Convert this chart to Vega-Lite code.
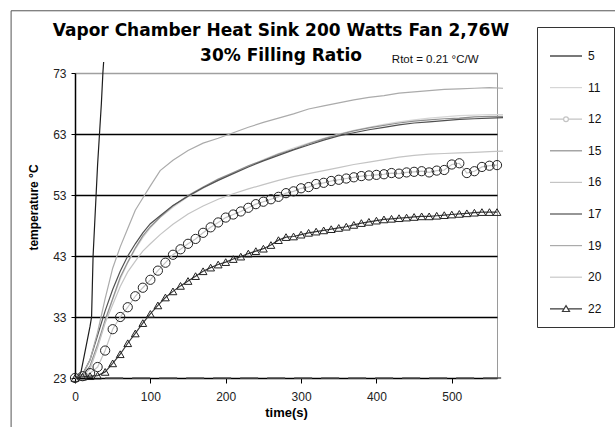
{
"$schema":"https://vega.github.io/schema/vega-lite/v6.json",
"width":422,"height":305,
"autosize":"none",
"padding":{"left":75,"top":73,"right":118,"bottom":49},
"background":"white",
"config":{"font":"Liberation Sans","view":{"stroke":"#9a9a9a","strokeWidth":1}},
"title":{"text":["Vapor Chamber Heat  Sink 200 Watts Fan 2,76W","30% Filling Ratio"],"font":"DejaVu Sans","fontSize":17,"fontWeight":"bold","color":"#000","lineHeight":25,"anchor":"middle","frame":"group","dx":-5,"baseline":"alphabetic","offset":-68},
"data":{"values":[
{"s":"5","t":0,"v":23},{"s":"5","t":5,"v":23.2},{"s":"5","t":8,"v":24},{"s":"5","t":12,"v":26.5},{"s":"5","t":16,"v":29},{"s":"5","t":20,"v":31.5},{"s":"5","t":22,"v":33},{"s":"5","t":23,"v":38},{"s":"5","t":24,"v":43},{"s":"5","t":26,"v":48},{"s":"5","t":28,"v":53},{"s":"5","t":30,"v":58},{"s":"5","t":32.5,"v":63},{"s":"5","t":35,"v":68},{"s":"5","t":37,"v":73},{"s":"5","t":38,"v":74.8},
{"s":"11","t":0,"v":23},{"s":"11","t":10,"v":23.3},{"s":"11","t":20,"v":24.6},{"s":"11","t":30,"v":28.2},{"s":"11","t":40,"v":32.2},{"s":"11","t":50,"v":35.8},{"s":"11","t":60,"v":39.2},{"s":"11","t":70,"v":41.9},{"s":"11","t":80,"v":44.1},{"s":"11","t":90,"v":46},{"s":"11","t":100,"v":47.6},{"s":"11","t":113,"v":49.3},{"s":"11","t":130,"v":51},{"s":"11","t":150,"v":52.7},{"s":"11","t":170,"v":54.1},{"s":"11","t":190,"v":55.4},{"s":"11","t":210,"v":56.6},{"s":"11","t":230,"v":57.7},{"s":"11","t":250,"v":58.8},{"s":"11","t":270,"v":59.8},{"s":"11","t":290,"v":60.7},{"s":"11","t":310,"v":61.5},{"s":"11","t":330,"v":62.3},{"s":"11","t":350,"v":63},{"s":"11","t":370,"v":63.6},{"s":"11","t":390,"v":64.1},{"s":"11","t":410,"v":64.6},{"s":"11","t":430,"v":65},{"s":"11","t":450,"v":65.3},{"s":"11","t":470,"v":65.6},{"s":"11","t":490,"v":65.8},{"s":"11","t":510,"v":66},{"s":"11","t":530,"v":66.1},{"s":"11","t":550,"v":66.2},{"s":"11","t":568,"v":66.2},
{"s":"15","t":0,"v":23},{"s":"15","t":10,"v":23.4},{"s":"15","t":20,"v":25},{"s":"15","t":30,"v":28.5},{"s":"15","t":40,"v":32.5},{"s":"15","t":50,"v":36},{"s":"15","t":60,"v":39.5},{"s":"15","t":70,"v":42},{"s":"15","t":80,"v":44.3},{"s":"15","t":90,"v":46.3},{"s":"15","t":100,"v":47.8},{"s":"15","t":113,"v":49.4},{"s":"15","t":130,"v":51.2},{"s":"15","t":150,"v":52.9},{"s":"15","t":170,"v":54.3},{"s":"15","t":190,"v":55.6},{"s":"15","t":210,"v":56.7},{"s":"15","t":230,"v":57.8},{"s":"15","t":250,"v":58.7},{"s":"15","t":270,"v":59.7},{"s":"15","t":290,"v":60.5},{"s":"15","t":310,"v":61.4},{"s":"15","t":330,"v":62.2},{"s":"15","t":350,"v":62.9},{"s":"15","t":370,"v":63.5},{"s":"15","t":390,"v":64},{"s":"15","t":410,"v":64.4},{"s":"15","t":430,"v":64.8},{"s":"15","t":450,"v":65.1},{"s":"15","t":470,"v":65.3},{"s":"15","t":490,"v":65.5},{"s":"15","t":510,"v":65.6},{"s":"15","t":530,"v":65.8},{"s":"15","t":550,"v":65.9},{"s":"15","t":568,"v":65.9},
{"s":"16","t":0,"v":23},{"s":"16","t":10,"v":23.3},{"s":"16","t":20,"v":24.5},{"s":"16","t":30,"v":28},{"s":"16","t":40,"v":32},{"s":"16","t":50,"v":35},{"s":"16","t":60,"v":38},{"s":"16","t":70,"v":40.4},{"s":"16","t":82,"v":42.5},{"s":"16","t":90,"v":43.8},{"s":"16","t":100,"v":45},{"s":"16","t":113,"v":46.5},{"s":"16","t":130,"v":48.2},{"s":"16","t":150,"v":49.9},{"s":"16","t":170,"v":51.2},{"s":"16","t":190,"v":52.3},{"s":"16","t":210,"v":53.2},{"s":"16","t":230,"v":54},{"s":"16","t":250,"v":54.7},{"s":"16","t":270,"v":55.4},{"s":"16","t":290,"v":56},{"s":"16","t":310,"v":56.5},{"s":"16","t":330,"v":57},{"s":"16","t":350,"v":57.5},{"s":"16","t":370,"v":58},{"s":"16","t":390,"v":58.4},{"s":"16","t":410,"v":58.8},{"s":"16","t":430,"v":59.2},{"s":"16","t":450,"v":59.5},{"s":"16","t":470,"v":59.7},{"s":"16","t":490,"v":59.8},{"s":"16","t":510,"v":59.9},{"s":"16","t":530,"v":60},{"s":"16","t":550,"v":60.1},{"s":"16","t":568,"v":60.2},
{"s":"17","t":0,"v":23},{"s":"17","t":10,"v":23.6},{"s":"17","t":20,"v":26},{"s":"17","t":30,"v":30},{"s":"17","t":40,"v":34},{"s":"17","t":50,"v":37.5},{"s":"17","t":60,"v":40.5},{"s":"17","t":70,"v":43},{"s":"17","t":80,"v":45},{"s":"17","t":90,"v":46.8},{"s":"17","t":100,"v":48.3},{"s":"17","t":113,"v":49.6},{"s":"17","t":130,"v":51.3},{"s":"17","t":150,"v":52.8},{"s":"17","t":170,"v":54.2},{"s":"17","t":190,"v":55.4},{"s":"17","t":210,"v":56.5},{"s":"17","t":230,"v":57.6},{"s":"17","t":250,"v":58.6},{"s":"17","t":270,"v":59.5},{"s":"17","t":290,"v":60.4},{"s":"17","t":310,"v":61.2},{"s":"17","t":330,"v":62},{"s":"17","t":350,"v":62.7},{"s":"17","t":370,"v":63.2},{"s":"17","t":390,"v":63.7},{"s":"17","t":410,"v":64.1},{"s":"17","t":430,"v":64.5},{"s":"17","t":450,"v":64.8},{"s":"17","t":470,"v":65},{"s":"17","t":490,"v":65.2},{"s":"17","t":510,"v":65.4},{"s":"17","t":530,"v":65.5},{"s":"17","t":550,"v":65.6},{"s":"17","t":568,"v":65.7},
{"s":"19","t":0,"v":23},{"s":"19","t":10,"v":23.5},{"s":"19","t":20,"v":26},{"s":"19","t":30,"v":30.5},{"s":"19","t":40,"v":36},{"s":"19","t":50,"v":41},{"s":"19","t":60,"v":44.5},{"s":"19","t":70,"v":47.5},{"s":"19","t":80,"v":50.5},{"s":"19","t":90,"v":52.5},{"s":"19","t":100,"v":54.5},{"s":"19","t":113,"v":57},{"s":"19","t":130,"v":58.7},{"s":"19","t":150,"v":60.3},{"s":"19","t":170,"v":61.5},{"s":"19","t":190,"v":62.3},{"s":"19","t":210,"v":63.2},{"s":"19","t":230,"v":64.1},{"s":"19","t":250,"v":64.9},{"s":"19","t":270,"v":65.6},{"s":"19","t":290,"v":66.3},{"s":"19","t":310,"v":67.1},{"s":"19","t":330,"v":67.6},{"s":"19","t":350,"v":68.1},{"s":"19","t":370,"v":68.6},{"s":"19","t":390,"v":69},{"s":"19","t":410,"v":69.3},{"s":"19","t":430,"v":69.7},{"s":"19","t":450,"v":69.9},{"s":"19","t":470,"v":70.1},{"s":"19","t":490,"v":70.3},{"s":"19","t":510,"v":70.4},{"s":"19","t":530,"v":70.5},{"s":"19","t":550,"v":70.6},{"s":"19","t":568,"v":70.5},
{"s":"20","t":40,"v":23},{"s":"20","t":568,"v":23},
{"s":"12","t":0,"v":23},{"s":"12","t":10,"v":23.3},{"s":"12","t":20,"v":23.8},{"s":"12","t":30,"v":24.8},{"s":"12","t":40,"v":27.5},{"s":"12","t":50,"v":31},{"s":"12","t":60,"v":33},{"s":"12","t":70,"v":34.6},{"s":"12","t":80,"v":36.4},{"s":"12","t":90,"v":37.8},{"s":"12","t":100,"v":39.1},{"s":"12","t":110,"v":40.6},{"s":"12","t":120,"v":41.9},{"s":"12","t":130,"v":43.2},{"s":"12","t":140,"v":44.1},{"s":"12","t":150,"v":45},{"s":"12","t":160,"v":45.8},{"s":"12","t":170,"v":46.8},{"s":"12","t":180,"v":47.7},{"s":"12","t":190,"v":48.5},{"s":"12","t":200,"v":49.3},{"s":"12","t":210,"v":49.8},{"s":"12","t":220,"v":50.3},{"s":"12","t":230,"v":50.9},{"s":"12","t":240,"v":51.5},{"s":"12","t":250,"v":51.9},{"s":"12","t":260,"v":52.3},{"s":"12","t":270,"v":52.7},{"s":"12","t":280,"v":53.3},{"s":"12","t":290,"v":53.6},{"s":"12","t":300,"v":54.1},{"s":"12","t":310,"v":54.3},{"s":"12","t":320,"v":54.8},{"s":"12","t":330,"v":55},{"s":"12","t":340,"v":55.3},{"s":"12","t":350,"v":55.5},{"s":"12","t":360,"v":55.7},{"s":"12","t":370,"v":55.9},{"s":"12","t":380,"v":56.1},{"s":"12","t":390,"v":56.2},{"s":"12","t":400,"v":56.3},{"s":"12","t":410,"v":56.4},{"s":"12","t":420,"v":56.6},{"s":"12","t":430,"v":56.5},{"s":"12","t":440,"v":56.7},{"s":"12","t":450,"v":56.8},{"s":"12","t":460,"v":56.9},{"s":"12","t":470,"v":56.7},{"s":"12","t":480,"v":57},{"s":"12","t":490,"v":57.1},{"s":"12","t":500,"v":58},{"s":"12","t":510,"v":58.2},{"s":"12","t":520,"v":56.6},{"s":"12","t":530,"v":56.9},{"s":"12","t":540,"v":57.6},{"s":"12","t":550,"v":57.8},{"s":"12","t":560,"v":57.9},
{"s":"22","t":0,"v":23},{"s":"22","t":10,"v":23.2},{"s":"22","t":20,"v":23.3},{"s":"22","t":30,"v":23.4},{"s":"22","t":40,"v":24},{"s":"22","t":50,"v":25.4},{"s":"22","t":60,"v":26.9},{"s":"22","t":70,"v":28.7},{"s":"22","t":80,"v":30.3},{"s":"22","t":90,"v":32},{"s":"22","t":100,"v":33.5},{"s":"22","t":110,"v":34.9},{"s":"22","t":120,"v":36.2},{"s":"22","t":130,"v":37.2},{"s":"22","t":140,"v":38.1},{"s":"22","t":150,"v":38.9},{"s":"22","t":160,"v":39.7},{"s":"22","t":170,"v":40.5},{"s":"22","t":180,"v":41.1},{"s":"22","t":190,"v":41.6},{"s":"22","t":200,"v":42},{"s":"22","t":210,"v":42.5},{"s":"22","t":220,"v":42.9},{"s":"22","t":230,"v":43.4},{"s":"22","t":240,"v":43.8},{"s":"22","t":250,"v":44.2},{"s":"22","t":260,"v":44.8},{"s":"22","t":270,"v":45.6},{"s":"22","t":280,"v":46.1},{"s":"22","t":290,"v":46.2},{"s":"22","t":300,"v":46.5},{"s":"22","t":310,"v":46.8},{"s":"22","t":320,"v":47},{"s":"22","t":330,"v":47.2},{"s":"22","t":340,"v":47.4},{"s":"22","t":350,"v":47.6},{"s":"22","t":360,"v":47.8},{"s":"22","t":370,"v":48.1},{"s":"22","t":380,"v":48.4},{"s":"22","t":390,"v":48.6},{"s":"22","t":400,"v":48.8},{"s":"22","t":410,"v":49},{"s":"22","t":420,"v":49.1},{"s":"22","t":430,"v":49.2},{"s":"22","t":440,"v":49.3},{"s":"22","t":450,"v":49.4},{"s":"22","t":460,"v":49.5},{"s":"22","t":470,"v":49.5},{"s":"22","t":480,"v":49.6},{"s":"22","t":490,"v":49.7},{"s":"22","t":500,"v":49.8},{"s":"22","t":510,"v":49.9},{"s":"22","t":520,"v":50},{"s":"22","t":530,"v":50.1},{"s":"22","t":540,"v":50.2},{"s":"22","t":550,"v":50.2},{"s":"22","t":560,"v":50.2}
]},
"encoding":{
"x":{"field":"t","type":"quantitative","scale":{"domain":[0,560],"nice":false,"zero":false},
"axis":{"title":"time(s)","values":[0,100,200,300,400,500],"grid":false,"domainColor":"#000","domainWidth":1.2,"tickColor":"#000","tickSize":5,"labelPadding":8,"labelFontSize":12,"labelColor":"#222","labelFlush":false,"titleFontSize":13,"titleFontWeight":"bold","titlePadding":4,"titleColor":"#000"}},
"y":{"field":"v","type":"quantitative","scale":{"domain":[23,73],"nice":false,"zero":false},
"axis":{"title":"temperature °C","values":[23,33,43,53,63,73],"grid":true,"gridColor":{"condition":{"test":"datum.value==73","value":"#a0a0a0"},"value":"#000"},"gridWidth":1.3,"domainColor":"#000","domainWidth":1.5,"tickColor":"#000","tickSize":4,"labelPadding":5,"labelFontSize":12,"labelColor":"#222","labelFlush":false,"titleFontSize":12,"titleFontWeight":"bold","titleColor":"#000","titleX":-42,"titleY":134,"titleAngle":270,"titleAlign":"center","titleBaseline":"middle"}}
},
"layer":[
{"transform":[{"filter":"datum.s == '20' && datum.t == 40"}],
 "mark":{"type":"rect","filled":false,"stroke":"#555","strokeWidth":1},
 "encoding":{"x":{"datum":-84.8,"type":"quantitative"},"x2":{"datum":3000},"y":{"datum":83.2,"type":"quantitative"},"y2":{"datum":-100}}},
{"transform":[{"filter":"datum.s != '20'"}],
 "mark":{"type":"line","strokeWidth":1.2},
 "encoding":{"stroke":{"field":"s","type":"nominal","scale":{"domain":["5","11","12","15","16","17","19","20","22"],"range":["#1e1e1e","#d6d6d6","#c4c4c4","#8f8f8f","#c4c4c4","#505050","#ababab","#c8c8c8","#3a3a3a"]},
   "legend":{"title":null,"orient":"none","legendX":462,"legendY":-46,"direction":"vertical","padding":12,"rowPadding":8.6,"symbolSize":1024,"symbolStrokeWidth":1.2,"labelFontSize":12,"labelOffset":5,"labelColor":"#111","strokeColor":"#333",
    "encode":{"symbols":{"update":{
      "shape":{"signal":"datum.value === '12' ? 'M-1,0L-0.18,0M0.18,0L1,0M-0.15,0A0.15,0.15,0,1,1,0.15,0A0.15,0.15,0,1,1,-0.15,0' : datum.value === '22' ? 'M-1,0L-0.16,0M0.16,0L1,0M0,-0.2L0.22,0.17L-0.22,0.17Z' : 'M-1,0L1,0'"},
      "size":{"value":1024},
      "fill":{"value":"transparent"},
      "strokeWidth":{"value":1.2}}}}}},
  "order":{"field":"t"}}},
{"transform":[{"filter":"datum.s == '20'"}],
 "mark":{"type":"line","strokeWidth":1.5,"stroke":"#555","strokeDash":[18,9]},"encoding":{}},
{"transform":[{"filter":"datum.s == '12'"}],
 "mark":{"type":"point","shape":"circle","filled":false,"stroke":"#222","strokeWidth":1,"size":85,"opacity":1}},
{"transform":[{"filter":"datum.s == '22'"}],
 "mark":{"type":"point","shape":"triangle-up","filled":false,"stroke":"#222","strokeWidth":1,"size":60,"opacity":1}},
{"transform":[{"filter":"datum.s == '20' && datum.t == 40"}],
 "mark":{"type":"text","text":"Rtot = 0.21 °C/W","fontSize":11.5,"align":"center","baseline":"alphabetic","color":"#111"},
 "encoding":{"x":{"datum":478,"type":"quantitative"},"y":{"datum":74.6,"type":"quantitative"}}}
]
}
